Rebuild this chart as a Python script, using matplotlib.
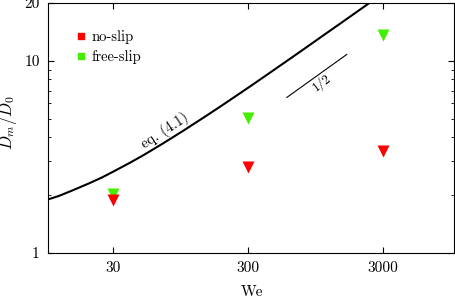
import numpy as np
import matplotlib
matplotlib.use("Agg")
import matplotlib.pyplot as plt
from matplotlib.ticker import FixedLocator, NullFormatter, NullLocator

# Computer Modern look
plt.rcParams['font.family'] = 'cmr10'
plt.rcParams['mathtext.fontset'] = 'cm'
plt.rcParams['axes.formatter.use_mathtext'] = True
plt.rcParams['font.size'] = 11

# Data
we_points = [30, 300, 3000]
d_noslip = [1.88, 2.8, 3.38]
d_freeslip = [2.02, 5.02, 13.7]

# eq. (4.1) curve
we_curve = [10, 12, 15, 20, 25, 30, 40, 50, 70, 100, 150, 200, 300, 400, 500, 700,
            1000, 1500, 2000, 2500]
d_curve = [1.90, 1.98, 2.11, 2.30, 2.47, 2.64, 2.94, 3.21, 3.70, 4.33, 5.21, 5.96,
           7.23, 8.31, 9.27, 10.93, 13.04, 15.93, 18.38, 20.54]

# slope guide line
we_slope = [582, 1614]
d_slope = [6.45, 10.8]

red = '#ff0000'
green = '#44ee00'

fig = plt.figure(figsize=(4.55, 2.98), dpi=100)
ax = fig.add_axes([0.1055, 0.151, 0.8923, 0.839])

ax.plot(we_curve, d_curve, color='black', lw=1.5, zorder=2)
ax.plot(we_slope, d_slope, color='black', lw=0.8)

ax.plot(we_points, d_freeslip, 'v', color=green, ms=8, mec='none', zorder=3)
ax.plot(we_points, d_noslip, 'v', color=red, ms=8, mec='none', zorder=4)

# legend (square markers)
ax.plot([], [], 's', color=red, ms=5, label='no-slip')
ax.plot([], [], 's', color=green, ms=5, label='free-slip')
handles, labels = ax.get_legend_handles_labels()
ax.legend(handles[-2:], labels[-2:], loc='upper left', bbox_to_anchor=(0.035, 0.945),
          frameon=False, handlelength=0.8, handletextpad=0.3, labelspacing=0.45,
          fontsize=10.5)

ax.text(72.6, 4.34, 'eq. (4.1)', rotation=33, ha='center', va='center', fontsize=10.5)
ax.text(1055, 7.72, '1/2', rotation=37, ha='center', va='center', fontsize=9.5)

ax.set_xscale('log')
ax.set_yscale('log')
ax.set_xlim(10, 10000)
ax.set_ylim(1, 20)

ax.xaxis.set_major_locator(FixedLocator([30, 300, 3000]))
ax.set_xticklabels(['30', '300', '3000'])
ax.xaxis.set_minor_locator(NullLocator())
ax.yaxis.set_major_locator(FixedLocator([1, 10, 20]))
ax.set_yticklabels(['1', '10', '20'])
ax.yaxis.set_minor_locator(FixedLocator([2, 3, 4, 5, 6, 7, 8, 9]))
ax.yaxis.set_minor_formatter(NullFormatter())

ax.tick_params(which='both', direction='in', top=True, right=True)
ax.tick_params(which='major', length=4, pad=6)
ax.tick_params(which='minor', length=2.5)

ax.set_xlabel('We')
ax.xaxis.set_label_coords(0.502, -0.128)
ax.set_ylabel('$D_m/D_0$', fontsize=12)
ax.yaxis.set_label_coords(-0.072, 0.52)

fig.savefig('out.png', dpi=100)
